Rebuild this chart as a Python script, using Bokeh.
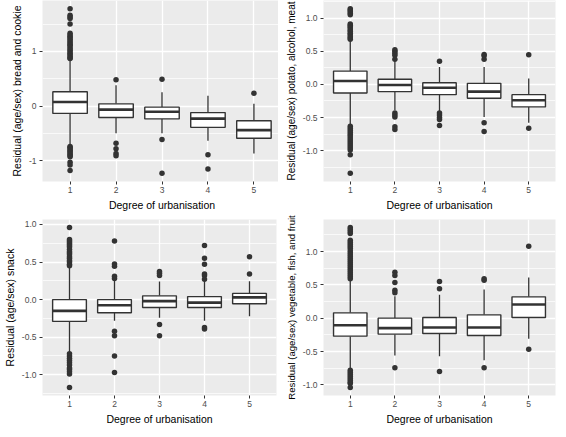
from bokeh.plotting import figure
from bokeh.layouts import gridplot
from bokeh.models import FixedTicker, PrintfTickFormatter, Range1d
from bokeh.embed import file_html
from bokeh.resources import INLINE

categories = [1, 2, 3, 4, 5]
x_title = "Degree of urbanisation"

# Panel A: bread and cookie
bread_title = "Residual (age/sex) bread and cookie"
bread_q1 = [-0.135, -0.21, -0.235, -0.39, -0.59]
bread_med = [0.075, -0.065, -0.105, -0.23, -0.44]
bread_q3 = [0.26, 0.04, -0.02, -0.12, -0.27]
bread_wlo = [-0.73, -0.50, -0.50, -0.635, -0.87]
bread_whi = [0.85, 0.38, 0.25, 0.19, 0.04]
bread_out = {
    1: [1.78, 1.66, 1.63, 1.60, 1.50, 1.33, 1.30, 1.27, 1.25, 1.22, 1.19, 1.16, 1.13,
        1.11, 1.08, 1.05, 1.02, 0.99, 0.96, 0.94, 0.91, 0.88, 0.87,
        -0.74, -0.76, -0.78, -0.81, -0.83, -0.86, -0.88, -0.91, -0.93, -1.03, -1.08, -1.18],
    2: [0.48, -0.68, -0.78, -0.87, -0.91],
    3: [0.49, -0.61, -1.23],
    4: [-0.89, -1.15],
    5: [0.235],
}
bread_major = [-1, 0, 1]
bread_minor = [-1.5, -0.5, 0.5, 1.5]

# Panel B: potato, alcohol, meat
potato_title = "Residual (age/sex) potato, alcohol, meat"
potato_q1 = [-0.13, -0.11, -0.155, -0.21, -0.34]
potato_med = [0.05, -0.01, -0.05, -0.11, -0.24]
potato_q3 = [0.20, 0.077, 0.024, 0.015, -0.155]
potato_wlo = [-0.61, -0.39, -0.40, -0.49, -0.58]
potato_whi = [0.667, 0.35, 0.26, 0.26, 0.09]
potato_out = {
    1: [1.14, 1.12, 1.10, 1.07, 1.05, 0.91, 0.89, 0.87, 0.85, 0.82, 0.80, 0.77, 0.75,
        0.72, 0.70, 0.68,
        -0.63, -0.66, -0.69, -0.72, -0.75, -0.78, -0.81, -0.84, -0.87, -0.90, -0.93,
        -0.96, -0.99, -1.06, -1.34],
    2: [0.52, 0.50, 0.47, 0.44, 0.38, -0.43, -0.46, -0.49, -0.64, -0.68],
    3: [0.35, -0.43, -0.46, -0.50, -0.53, -0.62],
    4: [0.45, 0.43, 0.38, -0.58, -0.71],
    5: [0.445, -0.66],
}
potato_major = [-1.0, -0.5, 0.0, 0.5, 1.0]
potato_minor = [-1.25, -0.75, -0.25, 0.25, 0.75, 1.25]

# Panel C: snack
snack_title = "Residual (age/sex) snack"
snack_q1 = [-0.29, -0.175, -0.105, -0.105, -0.055]
snack_med = [-0.15, -0.075, -0.02, -0.04, 0.03]
snack_q3 = [0.0, 0.0, 0.05, 0.04, 0.083]
snack_wlo = [-0.71, -0.28, -0.24, -0.28, -0.22]
snack_whi = [0.43, 0.26, 0.24, 0.25, 0.245]
snack_out = {
    1: [0.96, 0.80, 0.78, 0.76, 0.74, 0.72, 0.70, 0.67, 0.64, 0.62, 0.60, 0.57, 0.55,
        0.52, 0.50, 0.47, 0.45,
        -0.72, -0.75, -0.78, -0.81, -0.84, -0.87, -0.91, -0.93, -0.96, -0.99, -1.17],
    2: [0.78, 0.475, 0.445, 0.31, 0.28, -0.42, -0.48, -0.75, -0.97],
    3: [0.375, 0.35, 0.32, -0.33, -0.48],
    4: [0.72, 0.55, 0.47, 0.34, 0.32, 0.27, -0.37, -0.39],
    5: [0.57, 0.34],
}
snack_major = [-1.0, -0.5, 0.0, 0.5, 1.0]
snack_minor = [-1.25, -0.75, -0.25, 0.25, 0.75]

# Panel D: vegetable, fish, and fruit
veg_title = "Residual (age/sex) vegetable, fish, and fruit"
veg_q1 = [-0.27, -0.24, -0.23, -0.26, 0.01]
veg_med = [-0.106, -0.15, -0.14, -0.14, 0.205]
veg_q3 = [0.08, 0.0, 0.01, 0.05, 0.32]
veg_wlo = [-0.76, -0.56, -0.57, -0.63, -0.31]
veg_whi = [0.56, 0.33, 0.35, 0.43, 0.61]
veg_out = {
    1: [1.36, 1.33, 1.30, 1.27, 1.17, 1.14, 1.11, 1.08, 1.05, 1.01, 0.98, 0.95, 0.92,
        0.89, 0.86, 0.83, 0.80, 0.77, 0.74, 0.71, 0.68, 0.65, 0.62, 0.59,
        -0.78, -0.81, -0.84, -0.87, -0.90, -0.93, -0.96, -0.98, -1.04],
    2: [0.69, 0.64, 0.535, 0.42, 0.38, -0.745],
    3: [0.55, 0.44, -0.80],
    4: [0.59, 0.57, -0.745],
    5: [1.08, -0.465],
}
veg_major = [-1.0, -0.5, 0.0, 0.5, 1.0]
veg_minor = [-1.25, -0.75, -0.25, 0.25, 0.75, 1.25]

FONT = "Liberation Sans"
DARK = "#333333"
BOX_W = 0.75


def panel(ytitle, q1, med, q3, wlo, whi, outs, major, minor, fmt,
          fw, fh, bl, br, bt, bb, ytitle_size="10.5px"):
    ox, oy = [], []
    for c in categories:
        for v in outs.get(c, []):
            ox.append(c)
            oy.append(v)
    allv = oy + wlo + whi
    lo, hi = min(allv), max(allv)
    pad = 0.05 * (hi - lo)
    p = figure(frame_width=fw, frame_height=fh, output_backend="svg", toolbar_location=None,
               x_range=Range1d(0.4, 5.6), y_range=Range1d(lo - pad, hi + pad),
               min_border_left=bl, min_border_right=br, min_border_top=bt,
               min_border_bottom=bb, background_fill_color="#EBEBEB",
               border_fill_color="white", outline_line_color=None)
    xt = FixedTicker(ticks=categories, minor_ticks=[])
    yt = FixedTicker(ticks=major, minor_ticks=minor)
    p.xaxis.ticker = xt
    p.xgrid.ticker = xt
    p.yaxis.ticker = yt
    p.ygrid.ticker = yt
    p.yaxis.formatter = PrintfTickFormatter(format=fmt)
    for g in (p.xgrid, p.ygrid):
        g.grid_line_color = "white"
        g.grid_line_width = 1.3
    p.ygrid.minor_grid_line_color = "white"
    p.ygrid.minor_grid_line_width = 0.7
    for ax in (p.xaxis, p.yaxis):
        ax.axis_line_color = None
        ax.major_tick_line_color = DARK
        ax.major_tick_line_width = 1
        ax.major_tick_out = 3
        ax.major_tick_in = 0
        ax.minor_tick_line_color = None
        ax.major_label_text_font = FONT
        ax.major_label_text_font_size = "8.5px"
        ax.major_label_text_color = "#4D4D4D"
        ax.major_label_standoff = 2
        ax.axis_label_text_font = FONT
        ax.axis_label_text_font_size = "10.5px"
        ax.axis_label_text_font_style = "normal"
        ax.axis_label_text_color = "black"
        ax.axis_label_standoff = 3
    p.yaxis.axis_label_text_font_size = ytitle_size
    p.xaxis.axis_label = x_title
    p.yaxis.axis_label = ytitle

    # whiskers
    p.segment(x0=categories, x1=categories, y0=q3, y1=whi, line_color=DARK, line_width=1.3)
    p.segment(x0=categories, x1=categories, y0=q1, y1=wlo, line_color=DARK, line_width=1.3)
    # boxes
    p.vbar(x=categories, width=BOX_W, top=q3, bottom=q1, fill_color="white",
           line_color=DARK, line_width=1.4)
    # medians
    p.segment(x0=[c - BOX_W / 2 for c in categories], x1=[c + BOX_W / 2 for c in categories],
              y0=med, y1=med, line_color=DARK, line_width=2.6)
    # outliers
    p.scatter(x=ox, y=oy, size=5.5, fill_color=DARK, line_color=None)
    return p


pA = panel(bread_title, bread_q1, bread_med, bread_q3, bread_wlo, bread_whi, bread_out,
           bread_major, bread_minor, "%d", 239, 181, 32, 4, 0, 29)
pB = panel(potato_title, potato_q1, potato_med, potato_q3, potato_wlo, potato_whi, potato_out,
           potato_major, potato_minor, "%.1f", 232, 181, 40, 3, 0, 29, "10px")
pC = panel(snack_title, snack_q1, snack_med, snack_q3, snack_wlo, snack_whi, snack_out,
           snack_major, snack_minor, "%.1f", 234, 176, 35, 6, 6, 29)
pD = panel(veg_title, veg_q1, veg_med, veg_q3, veg_wlo, veg_whi, veg_out,
           veg_major, veg_minor, "%.1f", 232, 176, 40, 3, 6, 29, "9.6px")

grid = gridplot([[pA, pB], [pC, pD]], toolbar_location=None)

open("out.html", "w").write(file_html(grid, INLINE))
